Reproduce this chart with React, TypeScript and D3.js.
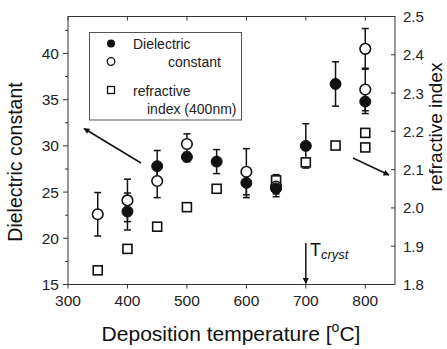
import React from "react";
import * as d3 from "d3";

// Dielectric constant, filled circles
const filledT = [400, 450, 500, 550, 600, 650, 700, 750, 800];
const filledV = [22.9, 27.8, 28.8, 28.3, 26.0, 25.4, 30.0, 36.7, 34.8];
const filledErr = [2.0, 1.7, 0.5, 1.3, 1.6, 0.9, 2.4, 2.4, 1.3];
// Dielectric constant, open circles
const openT = [350, 400, 450, 500, 600, 650, 800, 800];
const openV = [22.6, 24.1, 26.2, 30.2, 27.2, 25.6, 40.5, 36.1];
const openErr = [2.35, 2.3, 1.8, 1.1, 2.5, 0.8, 2.2, 2.3];
// refractive index (400nm), squares
const sqT = [350, 400, 450, 500, 550, 650, 700, 750, 800, 800];
const sqV = [1.837, 1.893, 1.951, 2.002, 2.05, 2.072, 2.119, 2.163, 2.196, 2.158];

const xTicks = [300, 400, 500, 600, 700, 800];
const yTicks = [15, 20, 25, 30, 35, 40];
const yMinor = [17.5, 22.5, 27.5, 32.5, 37.5, 42.5];
const rTicks = [1.8, 1.9, 2.0, 2.1, 2.2, 2.3, 2.4, 2.5];

const L = 68, R = 395, T = 16.5, B = 284.5;
const FONT = "Liberation Sans, Arial, sans-serif";

export default function App() {
  const x = d3.scaleLinear().domain([300, 850]).range([L, R]);
  const y = d3.scaleLinear().domain([15, 44]).range([B, T]);
  const yr = d3.scaleLinear().domain([1.8, 2.5]).range([B, T]);
  const cap = 3.5;
  const errBar = (cx: number, lo: number, hi: number, key: string) => (
    <g key={key} stroke="#111" strokeWidth={1.5}>
      <line x1={cx} x2={cx} y1={lo} y2={hi} />
      <line x1={cx - cap} x2={cx + cap} y1={lo} y2={lo} />
      <line x1={cx - cap} x2={cx + cap} y1={hi} y2={hi} />
    </g>
  );
  return (
    <svg width={447} height={349} style={{ position: "absolute", left: 0, top: 0, background: "#fff" }} fontFamily={FONT}>
      <defs>
        <marker id="ah" viewBox="0 0 10 10" refX="9" refY="5" markerWidth="8" markerHeight="6" orient="auto-start-reverse" markerUnits="userSpaceOnUse">
          <path d="M0,0 L10,5 L0,10 z" fill="#111" />
        </marker>
      </defs>
      {/* frame */}
      <rect x={L} y={T} width={R - L} height={B - T} fill="none" stroke="#333" strokeWidth={1} />
      {xTicks.map((t) => (
        <g key={"xt" + t}>
          <line x1={x(t)} x2={x(t)} y1={B} y2={B + 4} stroke="#333" />
          <line x1={x(t)} x2={x(t)} y1={T} y2={T + 4} stroke="#333" />
          <text x={x(t)} y={B + 21} fontSize={15.5} textAnchor="middle" fill="#222">{t}</text>
        </g>
      ))}
      {yTicks.map((t) => (
        <g key={"yt" + t}>
          <line x1={L - 5} x2={L} y1={y(t)} y2={y(t)} stroke="#333" />
          <text x={L - 9} y={y(t) + 5.5} fontSize={15.5} textAnchor="end" fill="#222">{t}</text>
        </g>
      ))}
      {yMinor.map((t) => (
        <line key={"ym" + t} x1={L - 3} x2={L} y1={y(t)} y2={y(t)} stroke="#333" />
      ))}
      {rTicks.map((t) => (
        <g key={"rt" + t}>
          <line x1={R - 4} x2={R} y1={yr(t)} y2={yr(t)} stroke="#333" />
          <text x={R + 8} y={yr(t) + 5.5} fontSize={15} textAnchor="start" fill="#222">{t.toFixed(1)}</text>
        </g>
      ))}
      {/* axis titles */}
      <text x={231} y={341} fontSize={21} textAnchor="middle" fill="#111">
        Deposition temperature [<tspan dy={-9} fontSize={14}>o</tspan><tspan dy={9}>C]</tspan>
      </text>
      <text transform={`translate(22,${162}) rotate(-90)`} fontSize={19.5} textAnchor="middle" fill="#111">Dielectric constant</text>
      <text transform={`translate(442,${127}) rotate(-90)`} fontSize={19} textAnchor="middle" fill="#111">refractive index</text>
      {/* error bars */}
      {openT.map((t, i) => errBar(x(t), y(openV[i] - openErr[i]), y(openV[i] + openErr[i]), "oe" + i))}
      {filledT.map((t, i) => errBar(x(t), y(filledV[i] - filledErr[i]), y(filledV[i] + filledErr[i]), "fe" + i))}
      {errBar(x(650), yr(2.058), yr(2.087), "se")}
      {/* squares */}
      {sqT.map((t, i) => (
        <rect key={"s" + i} x={x(t) - 4.5} y={yr(sqV[i]) - 4.5} width={9} height={9} fill="#fff" stroke="#111" strokeWidth={1.6} />
      ))}
      {/* open circles */}
      {openT.map((t, i) => (
        <circle key={"o" + i} cx={x(t)} cy={y(openV[i])} r={5.3} fill="#fff" stroke="#111" strokeWidth={1.6} />
      ))}
      {/* filled circles */}
      {filledT.map((t, i) => (
        <circle key={"f" + i} cx={x(t)} cy={y(filledV[i])} r={5.5} fill="#111" stroke="#111" strokeWidth={1} />
      ))}
      {/* legend */}
      <rect x={89.5} y={32.5} width={152} height={87.5} fill="#fff" stroke="#555" strokeWidth={1} />
      <circle cx={111} cy={43.5} r={4} fill="#111" />
      <circle cx={111} cy={61.5} r={3.8} fill="#fff" stroke="#111" strokeWidth={1.3} />
      <rect x={107.5} y={86.5} width={7} height={7} fill="#fff" stroke="#111" strokeWidth={1.3} />
      <text x={133} y={49} fontSize={14} fill="#222">Dielectric</text>
      <text x={168} y={67} fontSize={14} fill="#222">constant</text>
      <text x={133} y={96} fontSize={14} fill="#222">refractive</text>
      <text x={147} y={114} fontSize={14} fill="#222">index (400nm)</text>
      {/* arrows */}
      <line x1={141} y1={163} x2={84} y2={128.5} stroke="#111" strokeWidth={1.5} markerEnd="url(#ah)" />
      <line x1={353} y1={158} x2={389} y2={175} stroke="#111" strokeWidth={1.5} markerEnd="url(#ah)" />
      <line x1={x(700)} y1={243} x2={x(700)} y2={B - 1} stroke="#111" strokeWidth={1.5} markerEnd="url(#ah)" />
      <text x={310} y={256} fontSize={18} fill="#111">T<tspan fontSize={13} fontStyle="italic" dy={3}>cryst</tspan></text>
    </svg>
  );
}
